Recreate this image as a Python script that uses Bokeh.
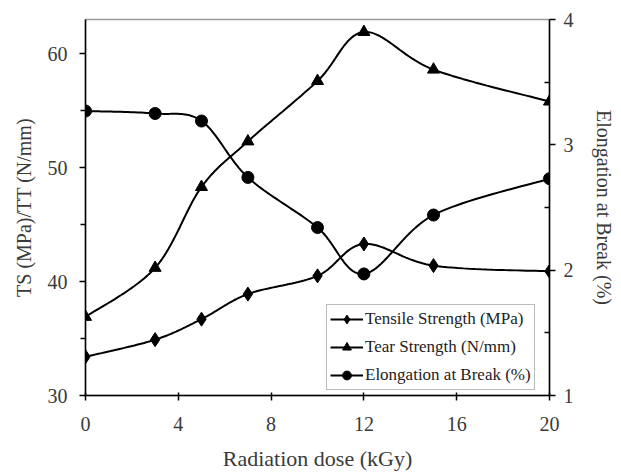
import numpy as np
from bokeh.plotting import figure
from bokeh.models import Range1d, LinearAxis, FixedTicker, Legend, LegendItem, ColumnDataSource
from bokeh.embed import file_html
from bokeh.resources import INLINE

# Data
dose = [0, 3, 5, 7, 10, 12, 15, 20]
tensile = [33.4, 34.9, 36.7, 38.9, 40.5, 43.3, 41.4, 40.9]
tear = [36.9, 41.2, 48.3, 52.3, 57.6, 61.9, 58.6, 55.8]
elongation = [3.27, 3.25, 3.19, 2.74, 2.34, 1.97, 2.44, 2.73]

x_ticks = [0, 4, 8, 12, 16, 20]
left_ticks = [30, 40, 50, 60]
left_minor = [35, 45, 55]
right_ticks = [1, 2, 3, 4]
right_minor = [1.5, 2.5, 3.5]

FONT = "Liberation Serif"
TXT = "#3a3a3a"


def smooth(xs, ys, n=24):
    """Catmull-Rom style smoothing (like spreadsheet 'smoothed line')."""
    xs = np.asarray(xs, float)
    ys = np.asarray(ys, float)
    px = np.concatenate([[xs[0]], xs, [xs[-1]]])
    py = np.concatenate([[ys[0]], ys, [ys[-1]]])
    ox, oy = [], []
    for i in range(1, len(px) - 2):
        p0 = np.array([px[i - 1], py[i - 1]])
        p1 = np.array([px[i], py[i]])
        p2 = np.array([px[i + 1], py[i + 1]])
        p3 = np.array([px[i + 2], py[i + 2]])
        c1 = p1 + (p2 - p0) / 6.0
        c2 = p2 - (p3 - p1) / 6.0
        t = np.linspace(0, 1, n, endpoint=(i == len(px) - 3))
        b = ((1 - t) ** 3)[:, None] * p1 + (3 * (1 - t) ** 2 * t)[:, None] * c1 \
            + (3 * (1 - t) * t ** 2)[:, None] * c2 + (t ** 3)[:, None] * p2
        ox.extend(b[:, 0]); oy.extend(b[:, 1])
    return ox, oy


W, H = 621, 475
p = figure(width=W, height=H, output_backend="svg", toolbar_location=None,
           x_range=Range1d(0, 20), y_range=Range1d(30, 63),
           min_border_left=85, min_border_right=72, min_border_top=19, min_border_bottom=80)
p.extra_y_ranges = {"el": Range1d(1, 4)}
p.xgrid.visible = False
p.ygrid.visible = False
p.outline_line_color = "#9a9a9a"
p.outline_line_width = 1.5
p.background_fill_color = "white"
p.border_fill_color = "white"

# x axis
xa = p.xaxis[0]
xa.ticker = FixedTicker(ticks=x_ticks)
xa.axis_label = "Radiation dose (kGy)"

# left axis
ya = p.yaxis[0]
ya.ticker = FixedTicker(ticks=left_ticks, minor_ticks=left_minor)
ya.axis_label = "TS (MPa)/TT (N/mm)"

# right axis
ra = LinearAxis(y_range_name="el", ticker=FixedTicker(ticks=right_ticks, minor_ticks=right_minor),
                axis_label="Elongation at Break (%)")
p.add_layout(ra, "right")

for ax in (xa, ya, ra):
    ax.axis_line_color = "black"
    ax.axis_line_width = 1.5
    ax.major_tick_line_color = "black"
    ax.minor_tick_line_color = "black"
    ax.major_tick_line_width = 1.5
    ax.minor_tick_line_width = 1.5
    ax.major_label_text_font = FONT
    ax.major_label_text_font_size = "20px"
    ax.major_label_text_color = TXT
    ax.axis_label_text_font = FONT
    ax.axis_label_text_font_size = "20px"
    ax.axis_label_text_font_style = "normal"
    ax.axis_label_text_color = TXT

xa.axis_label_text_font_size = "22px"
xa.major_tick_in = 3
xa.major_tick_out = 5
xa.minor_tick_in = 0
xa.minor_tick_out = 0
xa.major_label_standoff = 16
xa.axis_label_standoff = 12

ya.major_tick_in = 0
ya.major_tick_out = 6
ya.minor_tick_in = 0
ya.minor_tick_out = 5
ya.major_label_standoff = 12
ya.axis_label_standoff = 10

ra.major_tick_in = 0
ra.major_tick_out = 6
ra.minor_tick_in = 5
ra.minor_tick_out = 0
ra.major_label_standoff = 8
ra.axis_label_standoff = 16

items = []
series = [
    ("Tensile Strength (MPa)", tensile, "diamond", 14, "default"),
    ("Tear Strength (N/mm)", tear, "triangle", 12, "default"),
    ("Elongation at Break (%)", elongation, "circle", 12, "el"),
]
for label, ys, marker, size, rng in series:
    sx, sy = smooth(dose, ys)
    l = p.line(sx, sy, line_color="black", line_width=2, y_range_name=rng)
    src = ColumnDataSource(dict(x=dose, y=ys))
    s = p.scatter("x", "y", source=src, marker=marker, size=size, fill_color="black",
                  line_color="black", y_range_name=rng)
    items.append(LegendItem(label=label, renderers=[l, s]))

legend = Legend(items=items, location=(241, 5))
legend.label_text_font = FONT
legend.label_text_font_size = "17px"
legend.label_text_color = "#222222"
legend.border_line_color = "#777777"
legend.border_line_width = 1
legend.background_fill_alpha = 1
legend.glyph_width = 33
legend.glyph_height = 22
legend.label_height = 22
legend.label_standoff = 2
legend.spacing = 6
legend.padding = 3
legend.margin = 0
p.add_layout(legend, "center")

open("out.html", "w").write(file_html(p, INLINE))
